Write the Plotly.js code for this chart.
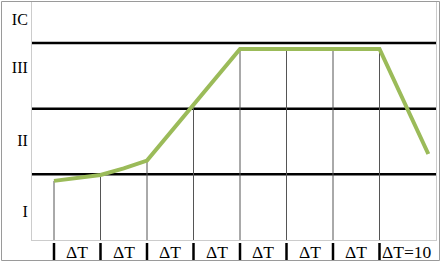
<!DOCTYPE html>
<html>
<head>
<meta charset="utf-8">
<script src="https://cdn.plot.ly/plotly-3.0.1.min.js"></script>
<style>html,body{margin:0;padding:0;background:#fff;}#chart{width:444px;height:265px;}</style>
</head>
<body>
<div id="chart"></div>
<script>
// Data
var levelLabels = ["I", "II", "III", "IC"];
var levelLabelPos = [0.43, 1.52, 2.63, 3.365];
var levelLines = [1, 2, 3];
var intervalLabels = ["ΔT", "ΔT", "ΔT", "ΔT", "ΔT", "ΔT", "ΔT", "ΔT=10"];
var intervalLabelPos = [0.5, 1.5, 2.5, 3.5, 4.5, 5.5, 6.5, 7.59];
var stepX = [0, 1, 2, 3, 4, 5, 6, 7];
var stepTop = [0.90, 0.99, 1.21, 2.05, 2.91, 2.91, 2.91, 2.91];
var curveX = [0, 0.5, 1, 1.5, 2, 4, 7, 8.05];
var curveY = [0.90, 0.94, 0.99, 1.09, 1.21, 2.91, 2.91, 1.31];

var vx = [], vy = [];
for (var i = 0; i < stepX.length; i++) {
  vx.push(stepX[i], stepX[i], null);
  vy.push(0, stepTop[i], null);
}

var traces = [
  {x: vx, y: vy, mode: 'lines', line: {color: '#555555', width: 1}, hoverinfo: 'skip', showlegend: false},
  {x: curveX, y: curveY, mode: 'lines', line: {color: '#9bbb59', width: 4}, hoverinfo: 'skip', showlegend: false}
];

var shapes = [];
levelLines.forEach(function (v) {
  shapes.push({type: 'line', xref: 'x domain', yref: 'y', x0: 0, x1: 1, y0: v, y1: v,
    line: {color: '#000000', width: 2.5}, layer: 'below'});
});
stepX.forEach(function (v) {
  shapes.push({type: 'line', xref: 'x', yref: 'paper', x0: v, x1: v,
    y0: (265 - 243) / 265, y1: (265 - 260) / 265, line: {color: '#000000', width: 2.5}});
});
// outer frame
shapes.push({type: 'rect', xref: 'paper', yref: 'paper', x0: 1.5 / 444, x1: 439.5 / 444,
  y0: (265 - 260.5) / 265, y1: (265 - 1.5) / 265, line: {color: '#9a9a9a', width: 1}, fillcolor: 'rgba(0,0,0,0)'});

var font = {family: 'Liberation Serif, Times New Roman, serif', size: 16, color: '#000000'};
var xfont = {family: 'Liberation Serif, Times New Roman, serif', size: 17.5, color: '#000000'};

var annotations = intervalLabels.map(function (t, i) {
  return {text: t, x: intervalLabelPos[i], xref: 'x', y: (265 - 251.5) / 265, yref: 'paper',
    xanchor: 'center', yanchor: 'middle', showarrow: false, font: xfont};
});

var layout = {
  width: 444, height: 265,
  margin: {l: 0, r: 0, t: 0, b: 0},
  paper_bgcolor: '#ffffff', plot_bgcolor: '#ffffff',
  showlegend: false,
  font: font,
  xaxis: {
    domain: [32 / 444, 436 / 444],
    range: [-0.4731, 8.215],
    showgrid: false, zeroline: false,
    showline: true, linecolor: '#cccccc', linewidth: 1, mirror: false,
    showticklabels: false, ticks: ''
  },
  yaxis: {
    domain: [(265 - 240) / 265, (265 - 2) / 265],
    range: [0, 3.624],
    showgrid: false, zeroline: false,
    showline: true, linecolor: '#cccccc', linewidth: 1, mirror: true,
    tickmode: 'array', tickvals: levelLabelPos, ticktext: levelLabels,
    ticks: '', tickfont: font, ticklabelstandoff: 0
  },
  shapes: shapes,
  annotations: annotations
};

Plotly.newPlot('chart', traces, layout, {staticPlot: true, displayModeBar: false});
</script>
</body>
</html>
